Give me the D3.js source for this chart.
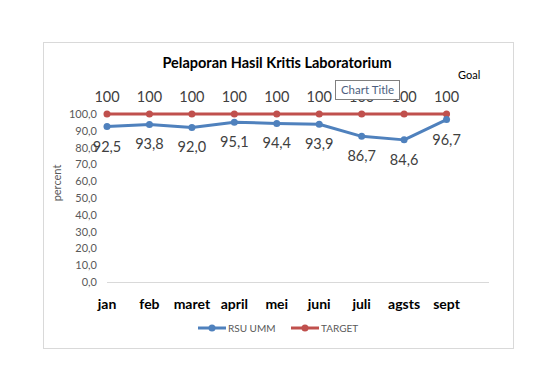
<!DOCTYPE html>
<html lang="en">
<head>
    <meta charset="UTF-8">
    <title>Pelaporan Hasil Kritis Laboratorium</title>
    <script src="https://cdn.jsdelivr.net/npm/d3@7"></script>
    <style>
        body { margin: 0; background: #fff; }
        text { font-family: Lato, "Open Sans", sans-serif; }
    </style>
</head>
<body>
<svg width="560" height="370"></svg>
<script>
    const months = ["jan", "feb", "maret", "april", "mei", "juni", "juli", "agsts", "sept"]
    const rsuUmm = [92.5, 93.8, 92.0, 95.1, 94.4, 93.9, 86.7, 84.6, 96.7]
    const target = [100, 100, 100, 100, 100, 100, 100, 100, 100]
    const yTicks = [0, 10, 20, 30, 40, 50, 60, 70, 80, 90, 100]

    const blue = "#4f81bd"
    const red = "#c0504d"

    const svg = d3.select("svg")
    const locale = d3.formatLocale({decimal: ",", thousands: ".", grouping: [3], currency: ["", ""]})
    const fmt1 = locale.format(".1f")

    // chart frame
    svg.append("rect")
        .attr("x", 43.5).attr("y", 42.5)
        .attr("width", 470).attr("height", 306)
        .attr("fill", "#fff").attr("stroke", "#d9d9d9")

    // extra empty slot at the end, like the sheet's blank column
    const x = d3.scalePoint().domain([...months, ""]).range([107, 489])
    const y = d3.scaleLinear().domain([0, 100]).range([282, 114])

    svg.append("text")
        .attr("x", 277).attr("y", 68)
        .attr("text-anchor", "middle")
        .attr("font-size", 14.5).attr("font-weight", "bold")
        .text("Pelaporan Hasil Kritis Laboratorium")

    svg.append("text")
        .attr("x", 458).attr("y", 79)
        .attr("font-size", 11).attr("fill", "#000")
        .text("Goal")

    // y axis
    const yAxis = svg.append("g").attr("transform", "translate(97,0)")
        .call(d3.axisLeft(y).tickValues(yTicks).tickFormat(fmt1).tickSize(0).tickPadding(0))
    yAxis.select(".domain").remove()
    yAxis.selectAll("text").attr("font-size", 11).attr("fill", "#595959")
        .attr("font-family", "Lato, sans-serif")

    svg.append("text")
        .attr("transform", "translate(61,183) rotate(-90)")
        .attr("text-anchor", "middle")
        .attr("font-size", 11).attr("fill", "#595959")
        .text("percent")

    // x axis
    svg.append("line")
        .attr("x1", x(months[0])).attr("x2", x(""))
        .attr("y1", y(0) + 0.5).attr("y2", y(0) + 0.5)
        .attr("stroke", "#d9d9d9")
    svg.append("g").selectAll("text")
        .data(months)
        .join("text")
        .attr("x", d => x(d)).attr("y", 309)
        .attr("text-anchor", "middle")
        .attr("font-size", 14).attr("font-weight", "bold")
        .text(d => d)

    const line = d3.line().x((d, i) => x(months[i])).y(d => y(d))

    function drawSeries(values, color, dy) {
        svg.append("path")
            .datum(values)
            .attr("d", line)
            .attr("fill", "none")
            .attr("stroke", color)
            .attr("stroke-width", 3)
            .attr("stroke-linejoin", "round")
        svg.append("g").selectAll("circle")
            .data(values)
            .join("circle")
            .attr("cx", (d, i) => x(months[i])).attr("cy", d => y(d))
            .attr("r", 3.5).attr("fill", color)
        svg.append("g").selectAll("text")
            .data(values)
            .join("text")
            .attr("x", (d, i) => x(months[i])).attr("y", d => y(d) + dy)
            .attr("text-anchor", "middle")
            .attr("font-size", 14.5).attr("fill", "#404040")
            .text(d => d === 100 ? "100" : fmt1(d))
    }

    drawSeries(target, red, -12)
    drawSeries(rsuUmm, blue, 25)

    // floating "Chart Title" box
    svg.append("rect")
        .attr("x", 335.5).attr("y", 80.5)
        .attr("width", 64).attr("height", 19)
        .attr("fill", "#fff").attr("stroke", "#7f7f7f")
    svg.append("text")
        .attr("x", 367.5).attr("y", 94)
        .attr("text-anchor", "middle")
        .attr("font-size", 11.5).attr("fill", "#4d5f80")
        .text("Chart Title")

    // legend
    const legend = [
        {name: "RSU UMM", color: blue, x: 198},
        {name: "TARGET", color: red, x: 291}
    ]
    const lg = svg.append("g").selectAll("g").data(legend).join("g")
        .attr("transform", d => `translate(${d.x},328)`)
    lg.append("line").attr("x1", 0).attr("x2", 28)
        .attr("stroke", d => d.color).attr("stroke-width", 3)
    lg.append("circle").attr("cx", 14).attr("r", 3.5).attr("fill", d => d.color)
    lg.append("text").attr("x", 30).attr("y", 4)
        .attr("font-size", 10).attr("fill", "#595959")
        .text(d => d.name)
</script>
</body>
</html>
